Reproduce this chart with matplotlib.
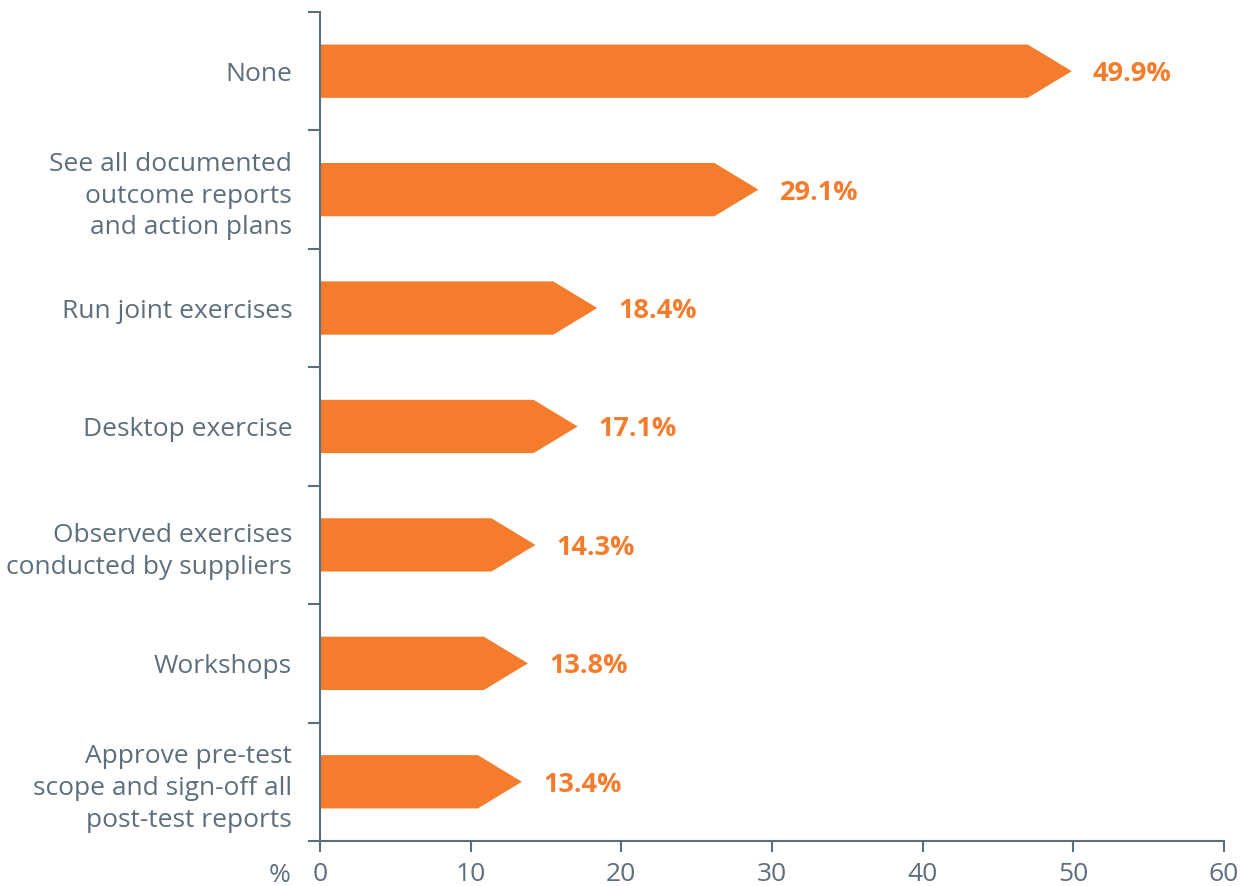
import matplotlib
matplotlib.use("Agg")
import matplotlib.pyplot as plt
from matplotlib.patches import Polygon

plt.rcParams["font.family"] = ["Open Sans", "DejaVu Sans"]

categories = ["None",
              "See all documented\noutcome reports\nand action plans",
              "Run joint exercises",
              "Desktop exercise",
              "Observed exercises\nconducted by suppliers",
              "Workshops",
              "Approve pre-test\nscope and sign-off all\npost-test reports"]
values = [49.9, 29.1, 18.4, 17.1, 14.3, 13.8, 13.4]
x_ticks = [0, 10, 20, 30, 40, 50, 60]

orange = "#F47C2C"
grey = "#5D6E7D"

fig = plt.figure(figsize=(12.52, 8.86), dpi=100)
ax = fig.add_axes([0.2556, 0.0508, 0.722, 0.9357])

n = len(categories)
bar_h = 0.45
tip = 2.92
for i, (cat, v) in enumerate(zip(categories, values)):
    yc = n - 0.5 - i
    pts = [(0, yc - bar_h / 2), (v - tip, yc - bar_h / 2), (v, yc),
           (v - tip, yc + bar_h / 2), (0, yc + bar_h / 2)]
    ax.add_patch(Polygon(pts, closed=True, facecolor=orange, edgecolor="none"))
    ax.text(v + 1.4, yc, f"{v:.1f}%", color=orange, fontsize=19.5,
            fontweight="bold", va="center_baseline", ha="left")

ax.set_xlim(0, 60)
ax.set_ylim(0, n)
ax.set_xticks(x_ticks)
ax.set_yticks(range(n + 1))
ax.set_yticklabels([])
ax.set_yticks([n - 0.5 - i for i in range(n)], categories, minor=True)

for s in ["top", "right"]:
    ax.spines[s].set_visible(False)
for s in ["left", "bottom"]:
    ax.spines[s].set_color(grey)
    ax.spines[s].set_linewidth(1.5)

ax.tick_params(axis="x", which="major", direction="out", length=8, width=1.5,
               color=grey, labelcolor=grey, labelsize=19, pad=7)
ax.tick_params(axis="y", which="major", direction="out", length=9, width=1.5,
               color=grey)
ax.tick_params(axis="y", which="minor", length=0, pad=20,
               labelcolor=grey, labelsize=19)
for lbl in ax.get_yticklabels(minor=True):
    lbl.set_linespacing(1.36)

ax.annotate("%", xy=(0, 0), xycoords="axes fraction", xytext=(-21, -25),
            textcoords="offset points", ha="right", va="center",
            color=grey, fontsize=19)

fig.savefig("out.png", dpi=100)
